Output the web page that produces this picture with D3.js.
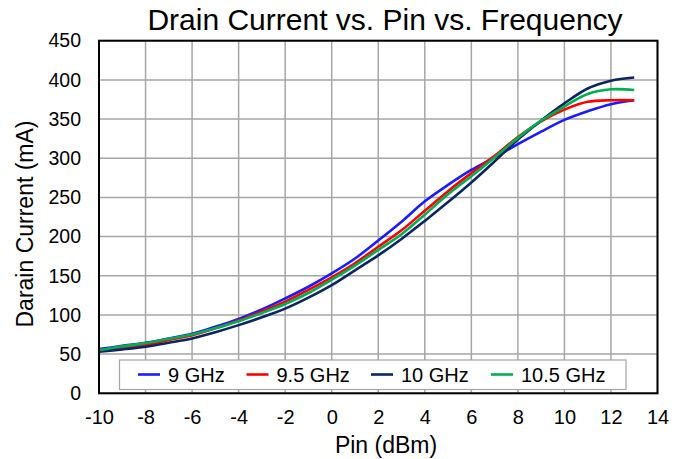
<!DOCTYPE html>
<html>
<head>
<meta charset="utf-8">
<script src="https://cdn.jsdelivr.net/npm/d3@7"></script>
<style>
  html, body { margin: 0; padding: 0; background: #fff; }
  svg { display: block; font-family: "Liberation Sans", Arial, sans-serif; }
</style>
</head>
<body>
<svg id="chart" width="686" height="459"></svg>
<script>
const pin = [-10,-9,-8,-7,-6,-5,-4,-3,-2,-1,0,1,2,3,4,5,6,7,8,9,10,11,12,13];
const ghz9   = [56.5,60.5,64.5,70,76,85,95,107,121,136,153,172,195,219,245,266,285,301,318,334,349,360,369,374];
const ghz9_5 = [55,58.5,62,68,74,83,93,104.5,117,132,148,166,187,208,233,258,281,303,327,347,362,372,374,374];
const ghz10  = [53,56,59.5,64.5,70,78,87,97,108,122,138,157,176,197,220,244,269,296,324,348,370,389,399,403];
const ghz10_5= [55,60,64,69.5,75,83,92,102.5,114,128,145,163,183,203,228,254,277,301,326,348,366,382,388,387];
const seriesNames = ["9 GHz","9.5 GHz","10 GHz","10.5 GHz"];
const seriesColors = ["#1a1aff","#ff0000","#0b2463","#00b050"];
const xTicks = [-10,-8,-6,-4,-2,0,2,4,6,8,10,12,14];
const yTicks = [0,50,100,150,200,250,300,350,400,450];

const series = [ghz9, ghz9_5, ghz10, ghz10_5];
const svg = d3.select("#chart");
const L = 99, R = 657.5, T = 40.7, B = 393.3;
const x = d3.scaleLinear().domain([-10,14]).range([L,R]);
const y = d3.scaleLinear().domain([0,450]).range([B,T]);

// gridlines
svg.append("g").selectAll("line").data(xTicks).join("line")
  .attr("x1", d=>x(d)).attr("x2", d=>x(d)).attr("y1", T).attr("y2", B)
  .attr("stroke","#a6a6a6").attr("stroke-width",1.5);
svg.append("g").selectAll("line").data(yTicks).join("line")
  .attr("x1", L).attr("x2", R).attr("y1", d=>y(d)).attr("y2", d=>y(d))
  .attr("stroke","#a6a6a6").attr("stroke-width",1.5);

// axes labels
const xAxis = d3.axisBottom(x).tickValues(xTicks).tickSize(0).tickPadding(17).tickFormat(d => String(d));
const gx = svg.append("g").attr("transform",`translate(0,${B})`).call(xAxis);
gx.select(".domain").remove();
gx.selectAll("text").attr("font-size",20).attr("fill","#000").attr("font-family","Liberation Sans, Arial, sans-serif");

const yAxis = d3.axisLeft(y).tickValues(yTicks).tickSize(0).tickPadding(18).tickFormat(d => String(d));
const gy = svg.append("g").attr("transform",`translate(${L},0)`).call(yAxis);
gy.select(".domain").remove();
gy.selectAll("text").attr("font-size",19.5).attr("fill","#000").attr("font-family","Liberation Sans, Arial, sans-serif");

// lines
const line = d3.line().x((d,i)=>x(pin[i])).y(d=>y(d)).curve(d3.curveCatmullRom.alpha(0.5));
series.forEach((s,k)=>{
  svg.append("path").datum(s).attr("d", line).attr("fill","none")
    .attr("stroke", seriesColors[k]).attr("stroke-width",2.6);
});

// frame
svg.append("rect").attr("x",L).attr("y",T).attr("width",R-L).attr("height",B-T)
  .attr("fill","none").attr("stroke","#000").attr("stroke-width",2);

// legend
const lg = svg.append("g");
lg.append("rect").attr("x",119.5).attr("y",360).attr("width",506.5).attr("height",29.5)
  .attr("fill","#fff").attr("stroke","#a6a6a6").attr("stroke-width",1.2);
const legX = [138, 246.5, 371, 491];
seriesNames.forEach((n,k)=>{
  lg.append("line").attr("x1",legX[k]).attr("x2",legX[k]+22).attr("y1",374.5).attr("y2",374.5)
    .attr("stroke",seriesColors[k]).attr("stroke-width",2.6);
  lg.append("text").attr("x",legX[k]+30).attr("y",381.5).attr("font-size",20).text(n);
});

// titles
svg.append("text").attr("x",385).attr("y",30).attr("text-anchor","middle")
  .attr("font-size",30).text("Drain Current vs. Pin vs. Frequency");
svg.append("text").attr("x",386).attr("y",453).attr("text-anchor","middle")
  .attr("font-size",23).text("Pin (dBm)");
svg.append("text").attr("transform","translate(33,224) rotate(-90)").attr("text-anchor","middle")
  .attr("font-size",23).text("Darain Current (mA)");
</script>
</body>
</html>
